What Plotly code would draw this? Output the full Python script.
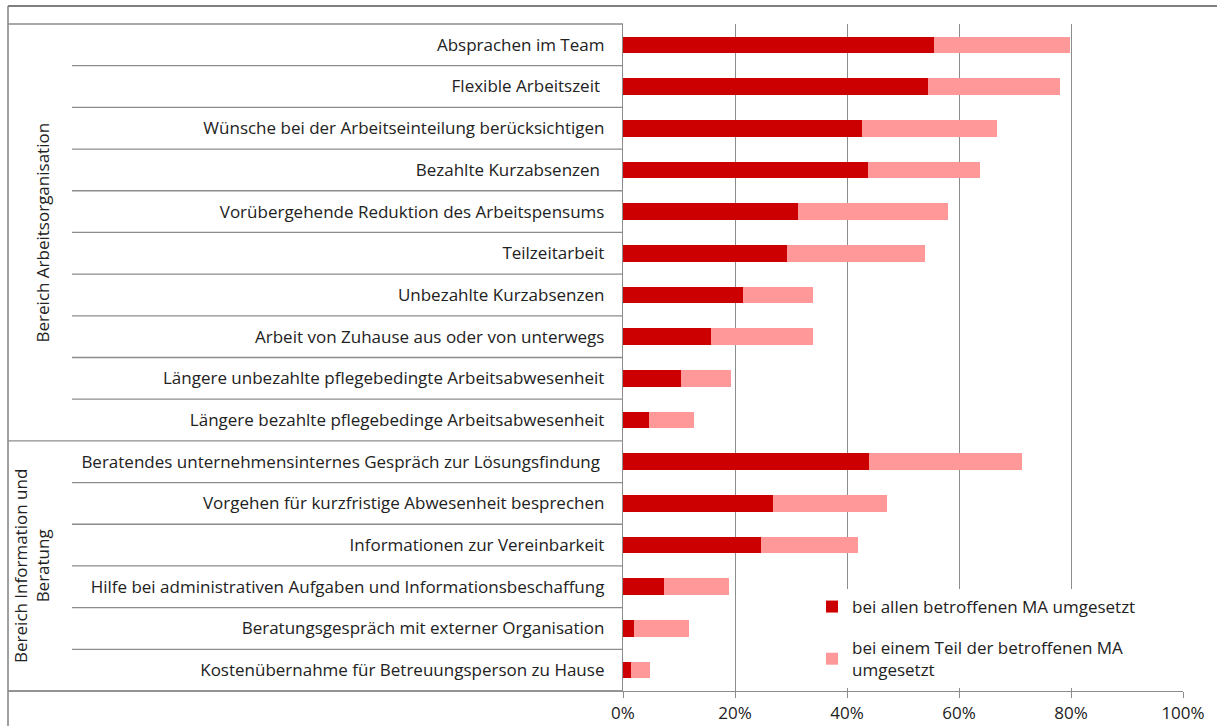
import plotly.graph_objects as go

categories = [
    "Absprachen im Team",
    "Flexible Arbeitszeit\u00a0",
    "Wünsche bei der Arbeitseinteilung berücksichtigen",
    "Bezahlte Kurzabsenzen\u00a0",
    "Vorübergehende Reduktion des Arbeitspensums",
    "Teilzeitarbeit",
    "Unbezahlte Kurzabsenzen",
    "Arbeit von Zuhause aus oder von unterwegs",
    "Längere unbezahlte pflegebedingte Arbeitsabwesenheit",
    "Längere bezahlte pflegebedinge Arbeitsabwesenheit",
    "Beratendes unternehmensinternes Gespräch zur Lösungsfindung\u00a0",
    "Vorgehen für kurzfristige Abwesenheit besprechen",
    "Informationen zur Vereinbarkeit",
    "Hilfe bei administrativen Aufgaben und Informationsbeschaffung",
    "Beratungsgespräch mit externer Organisation",
    "Kostenübernahme für Betreuungsperson zu Hause",
]
groups = ["Bereich Arbeitsorganisation", "Bereich Information und<br>Beratung"]
group_sizes = [10, 6]

all_ma = [55.5, 54.5, 42.7, 43.7, 31.3, 29.3, 21.4, 15.8, 10.4, 4.6,
          44.0, 26.7, 24.6, 7.4, 1.9, 1.4]
part_ma = [24.4, 23.5, 24.1, 20.0, 26.8, 24.7, 12.6, 18.1, 8.9, 8.0,
           27.3, 20.5, 17.3, 11.6, 9.9, 3.4]
series_names = ["bei allen betroffenen MA umgesetzt",
                "bei einem Teil der betroffenen MA<br>umgesetzt"]
colors = ["#CC0000", "#FF9999"]
x_ticks = [0, 20, 40, 60, 80, 100]

FONT = "Open Sans"
FS = 17
TXT = "#222222"
W, H = 1217, 726
ML, MR, MT, MB = 623, 34, 24, 35
PW = W - ML - MR
PH = H - MT - MB


def px_x(px):
    return (px - ML) / PW


def px_y(py):
    return (H - MB - py) / PH


fig = go.Figure()
for i, (vals, name) in enumerate(zip([all_ma, part_ma], series_names)):
    fig.add_trace(go.Bar(
        y=categories, x=vals, orientation="h", name=name,
        marker=dict(color=colors[i], line=dict(width=0)),
        legendgroup=f"g{i}",
    ))

grid_col = "#8c8c8c"
shapes = []
n = len(categories)
shapes.append(dict(type="line", xref="paper", yref="paper",
                   x0=px_x(8), x1=px_x(W), y0=px_y(6), y1=px_y(6),
                   line=dict(color="#555555", width=1.5)))
shapes.append(dict(type="line", xref="paper", yref="paper",
                   x0=px_x(8), x1=px_x(8), y0=px_y(6), y1=px_y(H),
                   line=dict(color="#808080", width=1.5)))
group_edges = {0, n}
acc = 0
for s in group_sizes:
    acc += s
    group_edges.add(acc)
for k in range(n + 1):
    yk = 1 - k / n
    x0 = px_x(8) if k in group_edges else px_x(72)
    shapes.append(dict(type="line", xref="paper", yref="paper",
                       x0=x0, x1=0, y0=yk, y1=yk,
                       line=dict(color=grid_col, width=1.3)))

annotations = []
start = 0
xcent = [42, 32]
for gi, (g, s) in enumerate(zip(groups, group_sizes)):
    ymid = 1 - (start + s / 2) / n
    annotations.append(dict(xref="paper", yref="paper", x=px_x(xcent[gi]), y=ymid,
                            text=g, showarrow=False, textangle=-90,
                            font=dict(family=FONT, size=FS, color=TXT),
                            xanchor="center", yanchor="middle"))
    start += s

fig.update_layout(
    width=W, height=H, autosize=False,
    margin=dict(l=ML, r=MR, t=MT, b=MB, pad=0),
    paper_bgcolor="white", plot_bgcolor="white",
    barmode="stack", bargap=0.6,
    font=dict(family=FONT, size=FS, color=TXT),
    shapes=shapes, annotations=annotations,
    legend=dict(x=px_x(812), y=px_y(589), xanchor="left", yanchor="top",
                bgcolor="white", traceorder="grouped", tracegroupgap=16,
                font=dict(family=FONT, size=FS, color=TXT),
                itemwidth=30),
    showlegend=True,
)
fig.update_xaxes(range=[0, 100], tickvals=x_ticks, ticktext=[f"{v}%" for v in x_ticks],
                 showgrid=True, gridcolor=grid_col, gridwidth=1.3, zeroline=False,
                 showline=True, linecolor=grid_col, linewidth=1.3,
                 ticks="outside", ticklen=6, tickcolor=grid_col, automargin=False,
                 tickfont=dict(family=FONT, size=FS, color=TXT))
fig.update_yaxes(autorange="reversed", showgrid=False, zeroline=False,
                 showline=True, linecolor=grid_col, linewidth=1.3,
                 ticks="", ticklabelstandoff=14, automargin=False,
                 tickfont=dict(family=FONT, size=FS, color=TXT))
fig.add_shape(type="line", xref="paper", yref="paper", x0=px_x(8), x1=0, y0=0, y1=0,
              line=dict(color=grid_col, width=1.3))

fig.write_html(
    "out.html",
    config={"displayModeBar": False},
    post_script="document.body.style.margin='0';document.body.style.overflow='hidden';",
)
